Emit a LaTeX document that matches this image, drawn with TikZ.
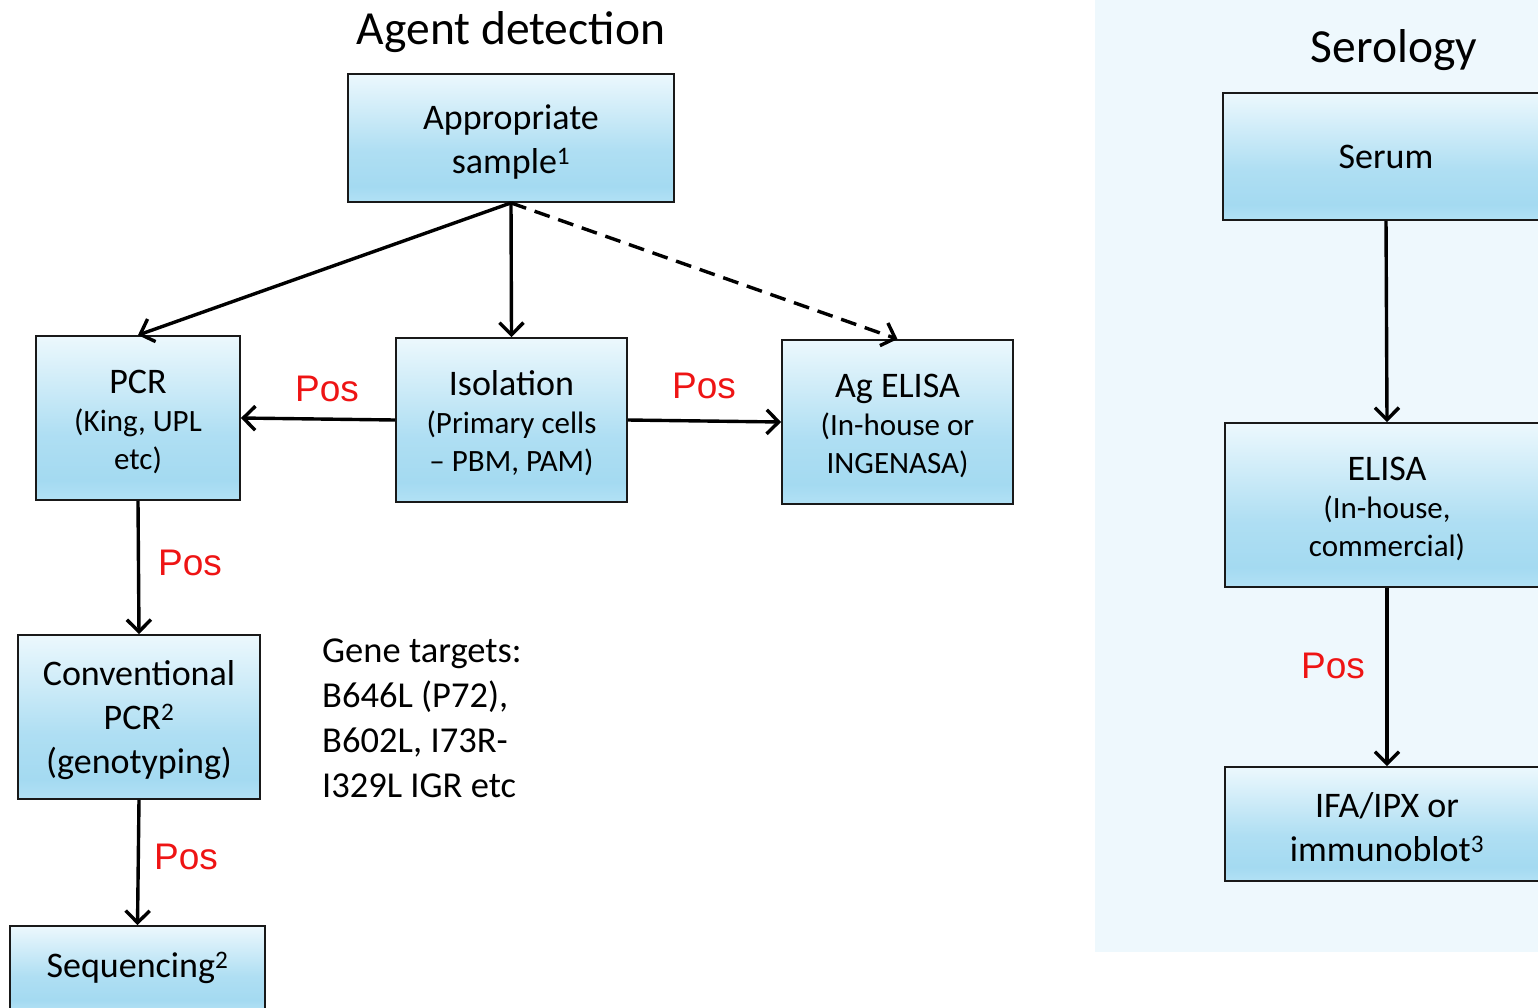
\documentclass[tikz,border=0pt]{standalone}
\usepackage{fontspec}
\setmainfont{Carlito}
\newfontfamily\arialf{Liberation Sans}
\usetikzlibrary{arrows.meta}
\definecolor{bxtop}{RGB}{236,248,253}
\definecolor{bxdeep}{RGB}{164,218,241}
\definecolor{bxbot}{RGB}{178,225,245}
\definecolor{panel}{RGB}{238,248,253}
\definecolor{posred}{RGB}{238,20,20}
\pgfdeclareverticalshading{boxshade}{100bp}{color(0bp)=(bxbot); color(25bp)=(bxbot); color(31bp)=(bxdeep); color(45bp)=(bxdeep!85!bxtop); color(75bp)=(bxtop); color(100bp)=(bxtop)}
\tikzset{
  fbox/.style={draw=black!90, line width=1.8pt, shading=boxshade, rectangle, inner sep=0pt, align=center,
     font=\fontsize{31}{38}\selectfont},
  big/.style={font=\fontsize{36}{44}\selectfont},
  arr/.style={line width=3.4pt, -{Straight Barb[length=12pt,width=24pt,line width=3.4pt]}},
  poslbl/.style={text=posred, font=\arialf\fontsize{37}{44}\selectfont, inner sep=0pt},
  ttl/.style={font=\fontsize{47.5}{56}\selectfont, inner sep=0pt, anchor=base},
}
\newcommand{\bg}[1]{{\fontsize{36}{44}\selectfont #1}}
\newcommand{\upstrut}{\rule{0pt}{32pt}}
\begin{document}
\begin{tikzpicture}[x=1pt,y=-1pt]
\useasboundingbox (0,0) rectangle (1538,1007);
\clip (0,0) rectangle (1538,1007);
\fill[panel] (1095,0) rectangle (1538,952);

\node[ttl] (t1) at (511,44) {Agent detection};
\node[ttl] (t2) at (1394,62) {Serology};

\node[fbox, big, minimum width=326pt, minimum height=128pt] (app) at (511,138) {\upstrut Appropriate\\sample\textsuperscript{1}};
\node[fbox, minimum width=204pt, minimum height=164pt] (pcr) at (138,418) {\upstrut\bg{PCR}\\(King, UPL\\etc)};
\node[fbox, minimum width=231pt, minimum height=164pt] (iso) at (511.5,420) {\upstrut\bg{Isolation}\\(Primary cells\\– PBM, PAM)};
\node[fbox, minimum width=231pt, minimum height=164pt] (ag) at (897.5,422) {\upstrut\bg{Ag ELISA}\\(In-house or\\INGENASA)};
\node[fbox, big, minimum width=242pt, minimum height=164pt] (conv) at (139,717) {\upstrut Conventional\\PCR\textsuperscript{2}\\(genotyping)};
\node[fbox, big, minimum width=255pt, minimum height=84pt] (seq) at (137.5,968) {Sequencing\textsuperscript{2}};

\node[fbox, big, minimum width=326pt, minimum height=127pt] (serum) at (1386,156.5) {Serum};
\node[fbox, minimum width=324pt, minimum height=164pt] (elisa) at (1387,505) {\upstrut\bg{ELISA}\\(In-house,\\commercial)};
\node[fbox, big, minimum width=324pt, minimum height=114pt] (ifa) at (1387,824) {\upstrut IFA/IPX or\\immunoblot\textsuperscript{3}};

\node[anchor=north west, inner sep=0pt, align=left, font=\fontsize{36.5}{45}\selectfont] (gene) at (322,639) {Gene targets:\\B646L (P72),\\B602L, I73R-\\I329L IGR etc};

\draw[arr] (app.south) -- (pcr.north);
\draw[arr] (app.south) -- (iso.north);
\draw[arr, dash pattern=on 16pt off 9pt] (app.south) -- (ag.north);
\draw[arr] (iso.west) -- (pcr.east);
\draw[arr] (iso.east) -- (ag.west);
\draw[arr] (pcr.south) -- (conv.north);
\draw[arr] (conv.south) -- (seq.north);
\draw[arr] (serum.south) -- (elisa.north);
\draw[arr] (elisa.south) -- (ifa.north);

\node[poslbl] (p1) at (327,389) {Pos};
\node[poslbl] (p2) at (704,386) {Pos};
\node[poslbl] (p3) at (190,563) {Pos};
\node[poslbl] (p4) at (186,857) {Pos};
\node[poslbl] (p5) at (1333,666) {Pos};
\end{tikzpicture}
\end{document}
